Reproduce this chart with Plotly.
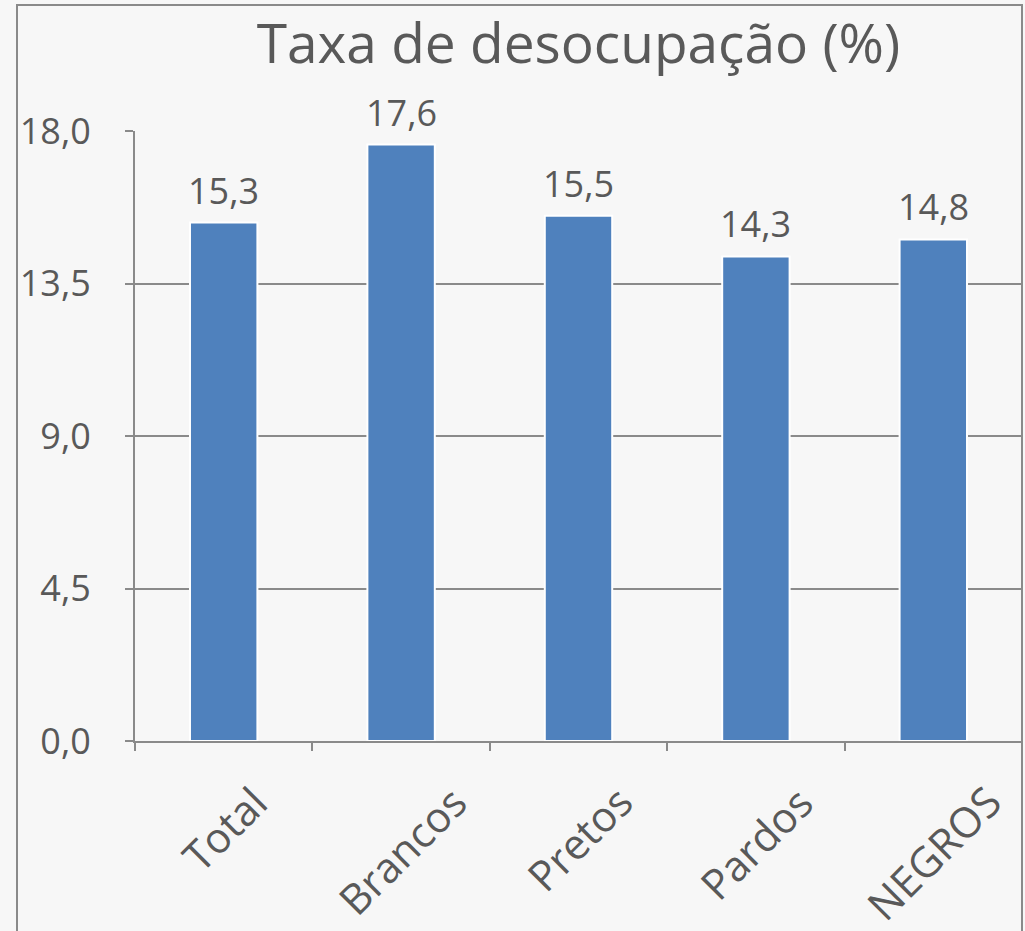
import plotly.graph_objects as go

categories = ["Total", "Brancos", "Pretos", "Pardos", "NEGROS"]
values = [15.3, 17.6, 15.5, 14.3, 14.8]
value_labels = ["15,3", "17,6", "15,5", "14,3", "14,8"]
y_tickvals = [0, 4.5, 9, 13.5, 18]
y_ticktext = ["0,0", "4,5", "9,0", "13,5", "18,0"]
title_text = "Taxa de desocupação (%)"

FONT = "Open Sans"
TXT = "#595959"
GRID = "#8a8a8a"
BG = "#f7f7f7"
BAR = "#4f81bd"

fig = go.Figure()
fig.add_trace(go.Bar(
    x=categories, y=values,
    marker=dict(color=BAR, line=dict(color="white", width=2)),
    width=0.38,
    hoverinfo="skip",
))

# data labels
for c, v, t in zip(categories, values, value_labels):
    fig.add_annotation(x=c, y=v, text=t, showarrow=False, xref="x", yref="y",
                       yanchor="bottom", yshift=6,
                       font=dict(family=FONT, size=36, color=TXT))

# rotated category labels
for c in categories:
    fig.add_annotation(x=c, y=-0.049, text=c, showarrow=False, xref="x", yref="paper",
                       xanchor="center", yanchor="top", textangle=-45,
                       font=dict(family=FONT, size=42, color=TXT))

# outer border
L, T, R = 17, 5, 1022
pl, pr, pt, pb = 135, 1022, 131, 741
W, H = pr - pl, pb - pt
fig.add_shape(type="path", xref="paper", yref="paper",
              path=f"M {(L-pl)/W} {(pb-960)/H} L {(L-pl)/W} {(pb-T)/H} L {(R-pl)/W} {(pb-T)/H} L {(R-pl)/W} {(pb-960)/H}",
              line=dict(color=GRID, width=2))

fig.update_layout(
    width=1025, height=931,
    margin=dict(l=pl, r=1025 - pr, t=pt, b=931 - pb),
    paper_bgcolor=BG, plot_bgcolor=BG,
    showlegend=False,
    bargap=0.62,
    title=dict(text=title_text, x=0.5, xref="paper", xanchor="center",
               y=1 - 44 / 931, yref="container", yanchor="middle",
               font=dict(family=FONT, size=55, color=TXT)),
    font=dict(family=FONT, color=TXT),
)
fig.update_xaxes(type="category", showline=True, linecolor=GRID, linewidth=2,
                 ticks="outside", ticklen=8, tickcolor=GRID, tickwidth=2,
                 tickson="boundaries", showticklabels=False, showgrid=False)
fig.update_yaxes(range=[0, 18], tickvals=y_tickvals, ticktext=y_ticktext,
                 showline=True, linecolor=GRID, linewidth=2,
                 ticks="outside", ticklen=8, tickcolor=GRID, tickwidth=2,
                 showgrid=True, gridcolor=GRID, gridwidth=2, zeroline=False,
                 ticklabelstandoff=27,
                 tickfont=dict(family=FONT, size=36, color=TXT))

fig.write_html("out.html", config={"displayModeBar": False},
               post_script="document.body.style.margin='0';document.body.style.background='#f7f7f7';")
